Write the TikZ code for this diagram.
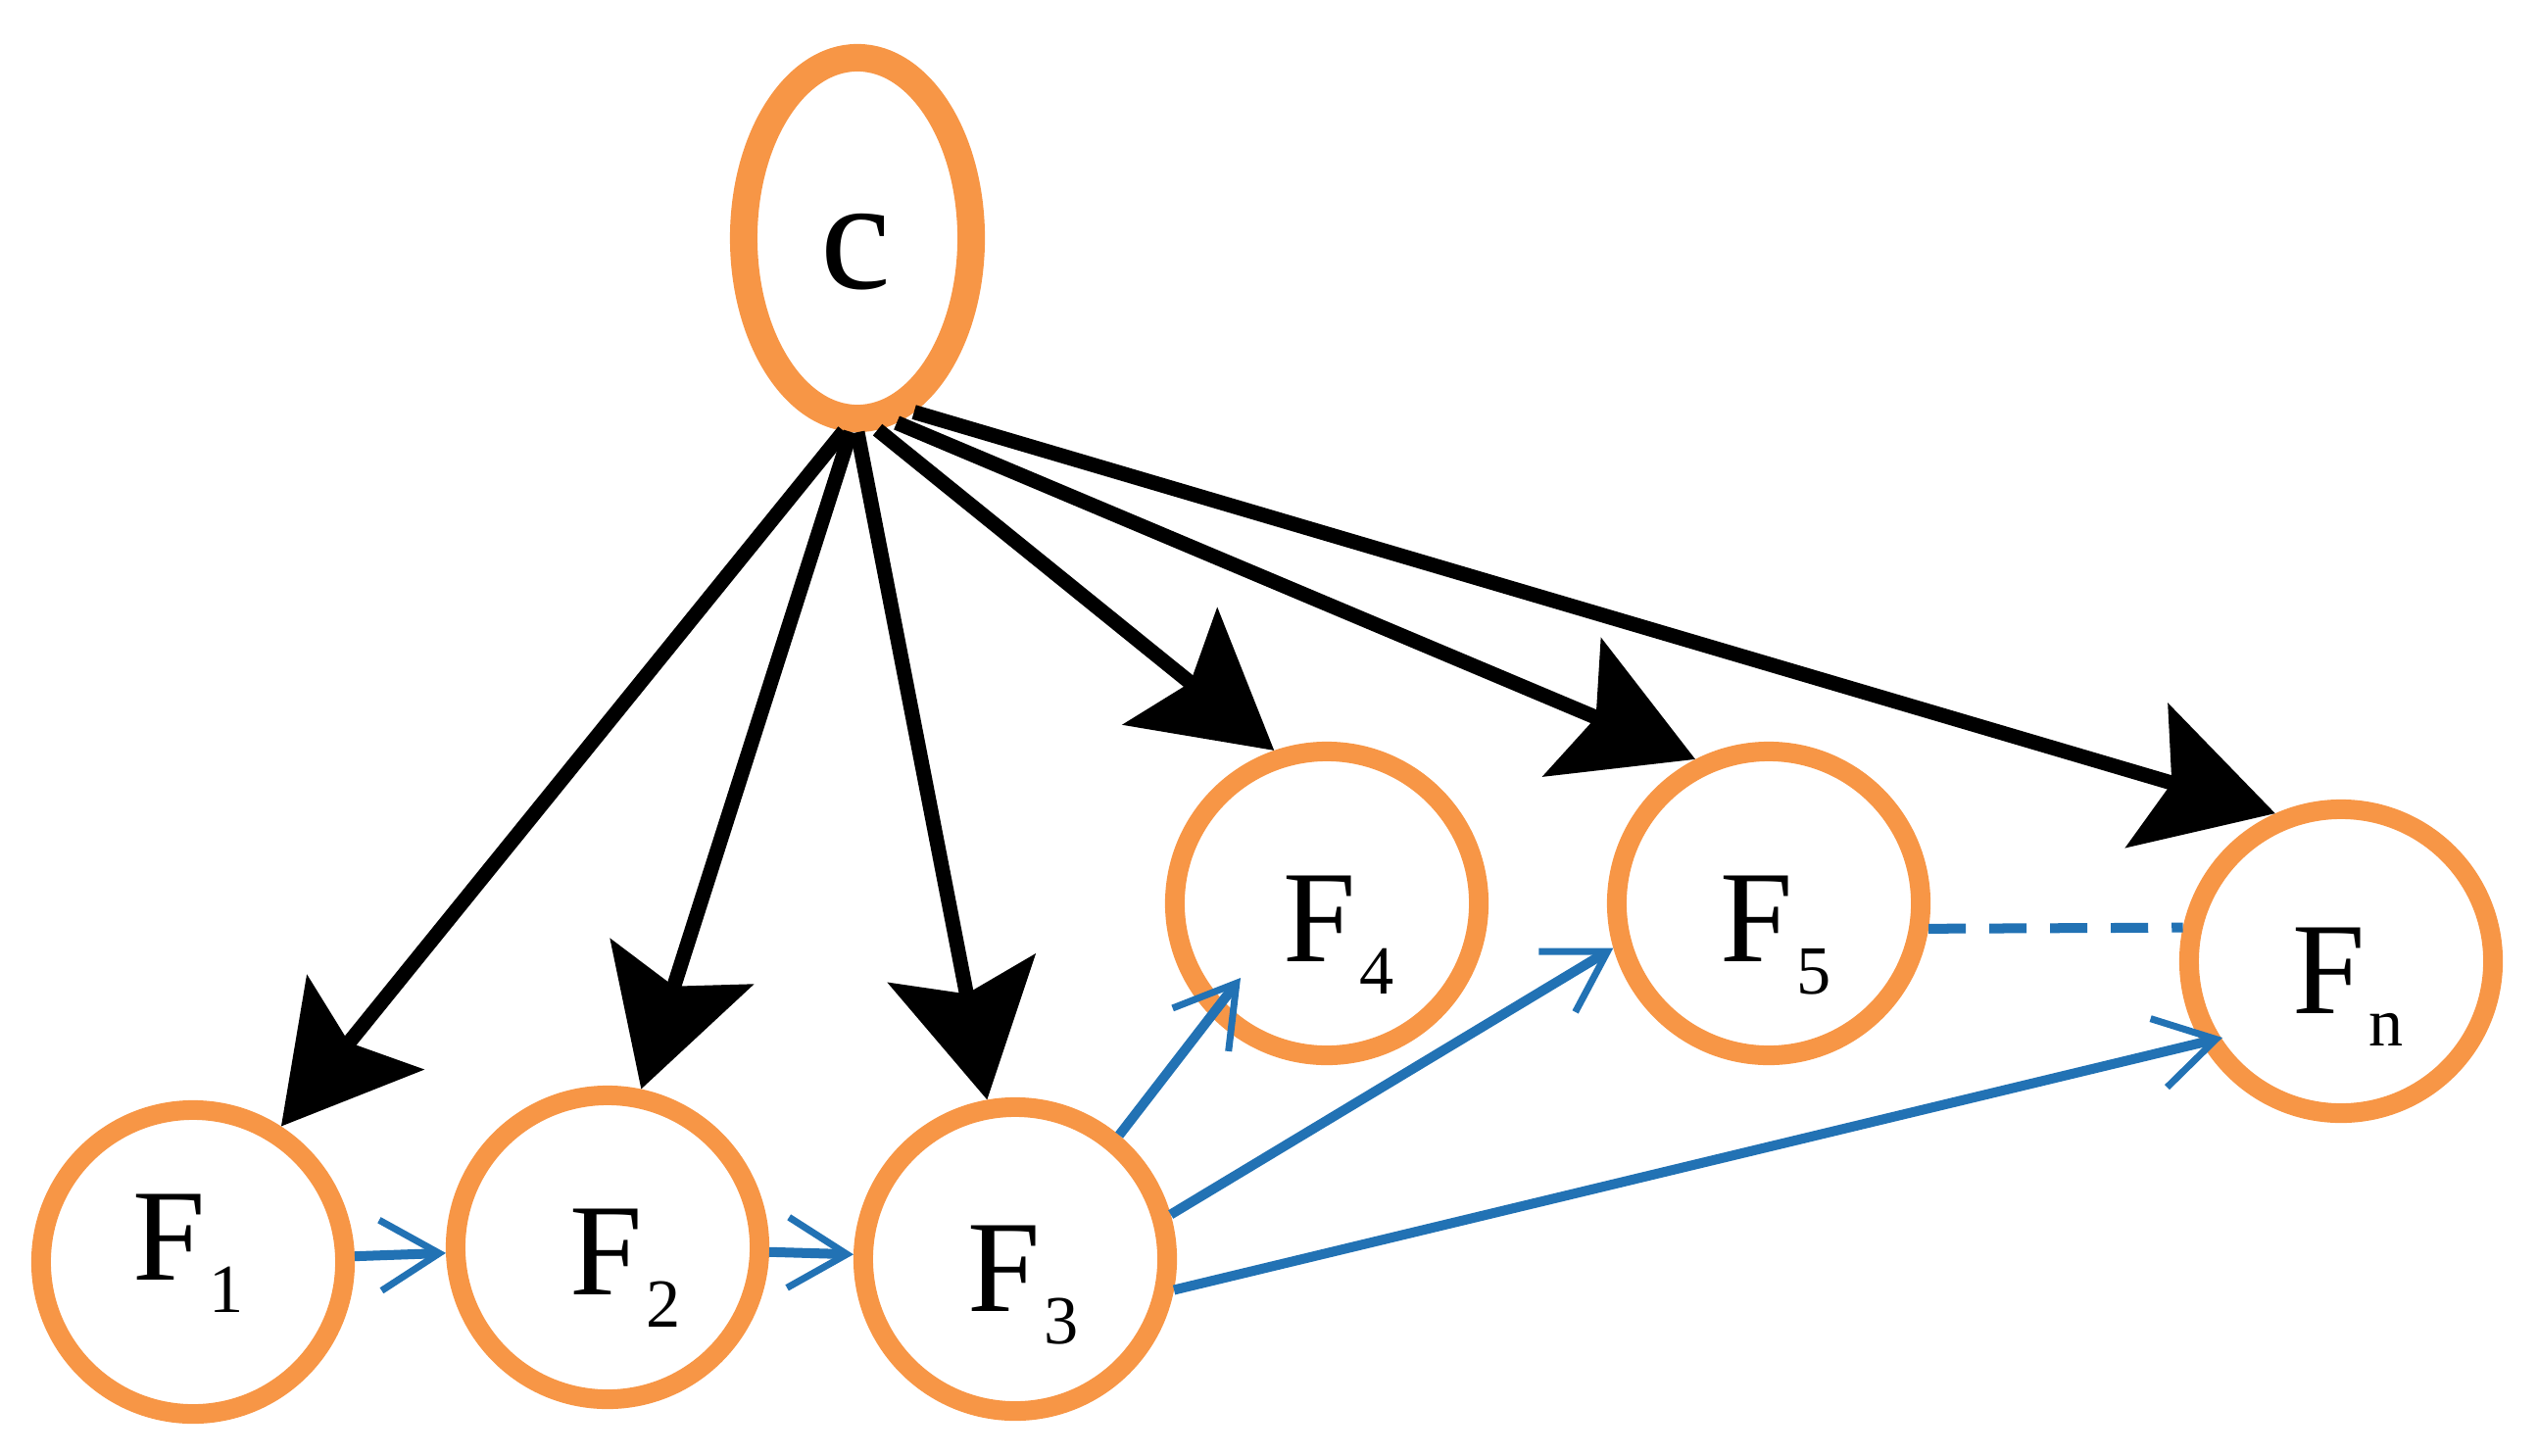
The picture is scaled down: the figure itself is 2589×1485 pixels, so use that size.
\documentclass[tikz,border=0pt]{standalone}
\usepackage{fontspec}
\setmainfont{Liberation Serif}
\usetikzlibrary{arrows.meta,calc,shapes.geometric}
\definecolor{orng}{HTML}{F79646}
\definecolor{blu}{HTML}{2272B4}
\newcommand\FF[1]{F\kern1pt\raisebox{-9.4pt}{\fontsize{20}{20}\selectfont #1}}
\begin{document}
\begin{tikzpicture}[x=0.01cm,y=-0.01cm,
  fnode/.style={circle,draw=orng,line width=0.2cm,minimum size=3.1cm,inner sep=0pt},
  cnode/.style={ellipse,draw=orng,line width=0.28cm,minimum width=2.32cm,minimum height=3.68cm,inner sep=0pt},
  lbl/.style={inner sep=0pt,font=\fontsize{38}{40}\selectfont},
  blackarrow/.style={draw=black,line width=0.15cm,-{Stealth[length=1.36cm,width=1.52cm,inset=0.26cm]}},
  bluearrow/.style={draw=blu,line width=0.1cm,-{Straight Barb[length=0.6cm,width=0.72cm,line width=0.07cm]}},
  dashlink/.style={draw=blu,line width=0.1cm,dash pattern=on 0.38cm off 0.24cm}
]
\useasboundingbox (0,0) rectangle (2589,1485);
\node[cnode] (c) at (875,243) {};
\node[fnode] (F1) at (197,1288) {};
\node[fnode] (F2) at (620,1273) {};
\node[fnode] (F3) at (1036,1285) {};
\node[fnode] (F4) at (1354,922) {};
\node[fnode] (F5) at (1805,922) {};
\node[fnode] (Fn) at (2389,981) {};
\node[lbl,font=\fontsize{46}{48}\selectfont] (Lc) at (873,257) {c};
\node[lbl] (L1) at (192,1279) {\FF{1}};
\node[lbl] (L2) at (638,1294) {\FF{2}};
\node[lbl] (L3) at (1044,1312) {\FF{3}};
\node[lbl] (L4) at (1366,954) {\FF{4}};
\node[lbl] (L5) at (1812,955) {\FF{5}};
\node[lbl] (Ln) at (2396,1007) {\FF{n}};
\draw[blackarrow] (c.-94) -- (F1.57);
\draw[blackarrow] (c.-92) -- (F2.78);
\draw[blackarrow] (c.-90) -- (F3.100);
\draw[blackarrow] (c.-84) -- (F4.109);
\draw[blackarrow] (c.-78) -- (F5.117);
\draw[blackarrow] (c.-72) -- (Fn.114);
\draw[bluearrow] (F1) -- (F2);
\draw[bluearrow] (F2) -- (F3);
\draw[bluearrow] (F3.50) -- ($(F4)+(-88,76)$);
\draw[bluearrow] (F3.16) -- (F5.196);
\draw[bluearrow] (F3.-11) -- ($(Fn)+(-121,78)$);
\draw[dashlink] (F5.-9) -- (Fn.168);
\end{tikzpicture}
\end{document}
